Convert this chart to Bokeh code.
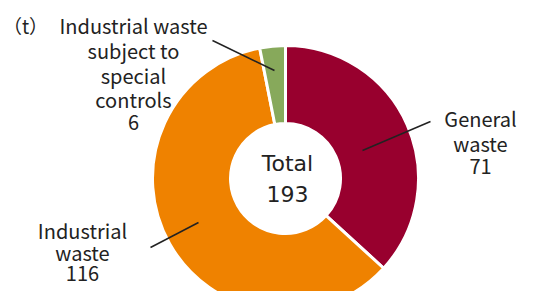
import math
from bokeh.plotting import figure
from bokeh.models import ColumnDataSource, Range1d
from bokeh.core.properties import value
from bokeh.embed import file_html
from bokeh.resources import INLINE

# ---- data ----
categories = ["General waste", "Industrial waste", "Industrial waste subject to special controls"]
values = [71, 116, 6]
colors = ["#98002E", "#EF8200", "#87A95B"]
label_lines = [["General", "waste"], ["Industrial", "waste"], ["Industrial waste", "subject to", "special", "controls"]]
center_title = "Total"
unit_label = "（t）"

# ---- layout (reference pixel coords, y measured from top) ----
PAGE_H = 307
FONT = "Noto Sans CJK JP"
TXT = "#222222"
cx, cy_ref = 285, 178
r_out, r_in = 133, 55

def Y(yref):
    return PAGE_H - yref

W, H = 521, 291
p = figure(width=W, height=H, x_range=Range1d(0, W), y_range=Range1d(PAGE_H - H, PAGE_H),
           output_backend="svg", toolbar_location=None, min_border=0,
           x_axis_location=None, y_axis_location=None)
p.grid.visible = False
p.outline_line_color = None
p.background_fill_color = "white"

total = sum(values)
starts, ends = [], []
a = math.pi / 2
for v in values:
    starts.append(a)
    a = a - v / total * 2 * math.pi
    ends.append(a)

src = ColumnDataSource(dict(start=starts, end=ends, color=colors, cat=categories, val=values))
p.annular_wedge(x=cx, y=Y(cy_ref), inner_radius=r_in, outer_radius=r_out,
                start_angle="start", end_angle="end", direction="clock",
                fill_color="color", line_color="white", line_width=3, source=src)

# leader lines: (start ref, end ref)
leaders = [((362, 150), (430, 121)), ((198, 222), (150, 247)), ((274, 70), (212, 40))]
p.segment(x0=[l[0][0] for l in leaders], y0=[Y(l[0][1]) for l in leaders],
          x1=[l[1][0] for l in leaders], y1=[Y(l[1][1]) for l in leaders],
          line_color="#222222", line_width=1.5)

# label text placement
label_pos = [(480, [118, 143, 166]), (82, [230, 252, 273]), (133, [25, 50, 75, 99, 122])]
tx, ty, tt = [], [], []
for (x, ys), lines, v in zip(label_pos, label_lines, values):
    all_lines = lines + [str(v)]
    for yy, s in zip(ys, all_lines):
        tx.append(x); ty.append(Y(yy)); tt.append(s)
p.text(x=tx, y=ty, text=tt, text_font=value(FONT), text_font_size="20px",
       text_align="center", text_baseline="middle", text_color=TXT)

p.text(x=[25], y=[Y(25)], text=[unit_label], text_font=value(FONT), text_font_size="19px",
       text_align="center", text_baseline="middle", text_color=TXT)

p.text(x=[287, 287], y=[Y(163), Y(193)], text=[center_title, str(total)], text_font=value("DejaVu Sans"),
       text_font_size="22px", text_align="center", text_baseline="middle", text_color=TXT)

open("out.html", "w").write(file_html(p, INLINE))
